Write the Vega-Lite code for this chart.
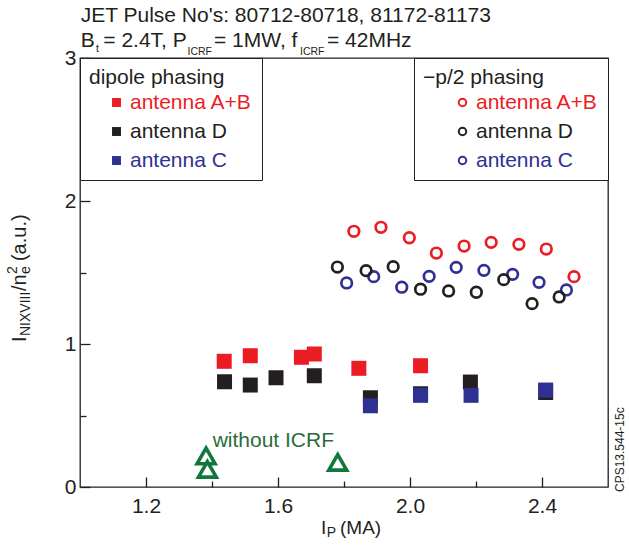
{
  "$schema": "https://vega.github.io/schema/vega-lite/v6.json",
  "width": 528,
  "height": 429,
  "autosize": {"type": "none"},
  "padding": {"left": 80, "top": 58, "right": 21, "bottom": 58},
  "background": "white",
  "config": {
    "font": "Liberation Sans",
    "view": {"stroke": "#231f20", "strokeWidth": 1.3},
    "axis": {"grid": false, "domain": false, "title": null, "tickColor": "#231f20", "tickWidth": 1.3, "labelColor": "#231f20", "labelFontSize": 21, "labelFont": "Liberation Sans"}
  },
  "datasets": {
    "dipole": [
      {"x": 1.437, "y": 0.879, "dip": "antenna A+B"},
      {"x": 1.516, "y": 0.918, "dip": "antenna A+B"},
      {"x": 1.671, "y": 0.907, "dip": "antenna A+B"},
      {"x": 1.710, "y": 0.930, "dip": "antenna A+B"},
      {"x": 1.845, "y": 0.830, "dip": "antenna A+B"},
      {"x": 2.032, "y": 0.848, "dip": "antenna A+B"},
      {"x": 1.438, "y": 0.736, "dip": "antenna D"},
      {"x": 1.516, "y": 0.713, "dip": "antenna D"},
      {"x": 1.594, "y": 0.764, "dip": "antenna D"},
      {"x": 1.710, "y": 0.778, "dip": "antenna D"},
      {"x": 1.880, "y": 0.624, "dip": "antenna D"},
      {"x": 2.032, "y": 0.652, "dip": "antenna D"},
      {"x": 2.183, "y": 0.734, "dip": "antenna D"},
      {"x": 2.411, "y": 0.661, "dip": "antenna D"},
      {"x": 1.880, "y": 0.568, "dip": "antenna C"},
      {"x": 2.032, "y": 0.641, "dip": "antenna C"},
      {"x": 2.185, "y": 0.641, "dip": "antenna C"},
      {"x": 2.411, "y": 0.678, "dip": "antenna C"}
    ],
    "half": [
      {"x": 1.808, "y": 1.427, "ph": "antenna C"},
      {"x": 1.890, "y": 1.471, "ph": "antenna C"},
      {"x": 1.975, "y": 1.397, "ph": "antenna C"},
      {"x": 2.058, "y": 1.473, "ph": "antenna C"},
      {"x": 2.140, "y": 1.536, "ph": "antenna C"},
      {"x": 2.224, "y": 1.515, "ph": "antenna C"},
      {"x": 2.311, "y": 1.487, "ph": "antenna C"},
      {"x": 2.391, "y": 1.431, "ph": "antenna C"},
      {"x": 2.474, "y": 1.378, "ph": "antenna C"},
      {"x": 1.780, "y": 1.538, "ph": "antenna D"},
      {"x": 1.867, "y": 1.513, "ph": "antenna D"},
      {"x": 1.949, "y": 1.541, "ph": "antenna D"},
      {"x": 2.032, "y": 1.383, "ph": "antenna D"},
      {"x": 2.117, "y": 1.371, "ph": "antenna D"},
      {"x": 2.201, "y": 1.362, "ph": "antenna D"},
      {"x": 2.284, "y": 1.450, "ph": "antenna D"},
      {"x": 2.370, "y": 1.282, "ph": "antenna D"},
      {"x": 2.452, "y": 1.329, "ph": "antenna D"},
      {"x": 1.830, "y": 1.788, "ph": "antenna A+B"},
      {"x": 1.912, "y": 1.816, "ph": "antenna A+B"},
      {"x": 1.998, "y": 1.743, "ph": "antenna A+B"},
      {"x": 2.080, "y": 1.636, "ph": "antenna A+B"},
      {"x": 2.164, "y": 1.685, "ph": "antenna A+B"},
      {"x": 2.246, "y": 1.711, "ph": "antenna A+B"},
      {"x": 2.330, "y": 1.697, "ph": "antenna A+B"},
      {"x": 2.413, "y": 1.664, "ph": "antenna A+B"},
      {"x": 2.497, "y": 1.471, "ph": "antenna A+B"}
    ],
    "ohmic": [
      {"x": 1.382, "y": 0.217},
      {"x": 1.386, "y": 0.123},
      {"x": 1.781, "y": 0.172}
    ],
    "annot": [
      {"text": "JET Pulse No's: 80712-80718, 81172-81173", "x": 1.002, "y": 3.252, "role": "head"},
      {"text": "B", "x": 1.002, "y": 3.079, "role": "head"},
      {"text": "t", "x": 1.0485, "y": 3.045, "role": "headsub"},
      {"text": "= 2.4T, P", "x": 1.0706, "y": 3.079, "role": "head"},
      {"text": "ICRF", "x": 1.3258, "y": 3.024, "role": "headsub"},
      {"text": "= 1MW, f", "x": 1.406, "y": 3.079, "role": "head"},
      {"text": "ICRF", "x": 1.6667, "y": 3.024, "role": "headsub"},
      {"text": "= 42MHz", "x": 1.7485, "y": 3.079, "role": "head"},
      {"text": "I", "x": 0.8364, "y": 1.014, "role": "ylab"},
      {"text": "NIXVIII", "x": 0.8485, "y": 1.056, "role": "ylabsub"},
      {"text": "/n", "x": 0.8364, "y": 1.371, "role": "ylab"},
      {"text": "e", "x": 0.8485, "y": 1.490, "role": "ylabsub"},
      {"text": "2", "x": 0.809, "y": 1.490, "role": "ylabsub"},
      {"text": "(a.u.)", "x": 0.8364, "y": 1.580, "role": "ylab"},
      {"text": "I", "x": 1.730, "y": -0.329, "role": "xlab"},
      {"text": "P", "x": 1.748, "y": -0.350, "role": "xlabsub"},
      {"text": "(MA)", "x": 1.788, "y": -0.329, "role": "xlab"},
      {"text": "CPS13.544-15c", "x": 2.648, "y": -0.035, "role": "stamp"},
      {"text": "without ICRF", "x": 1.402, "y": 0.282, "role": "green"}
    ]
  },
  "encoding": {
    "x": {"field": "x", "type": "quantitative", "scale": {"domain": [1.0, 2.6], "nice": false, "zero": false}, "axis": null},
    "y": {"field": "y", "type": "quantitative", "scale": {"domain": [0, 3], "nice": false, "zero": false}, "axis": null}
  },
  "resolve": {"axis": {"x": "independent", "y": "independent"}},
  "layer": [
    {
      "data": {"name": "dipole"},
      "mark": {"type": "square", "size": 225, "opacity": 1, "filled": true},
      "encoding": {
        "x": {"field": "x", "type": "quantitative", "scale": {"domain": [1.0, 2.6], "nice": false, "zero": false},
          "axis": {"orient": "bottom", "values": [1.2, 1.6, 2.0, 2.4], "format": ".1f", "tickSize": -10, "labelPadding": 18}},
        "y": {"field": "y", "type": "quantitative", "scale": {"domain": [0, 3], "nice": false, "zero": false},
          "axis": {"orient": "left", "values": [0, 1, 2, 3], "format": "d", "tickSize": -10, "labelPadding": 14}},
        "color": {"field": "dip", "type": "nominal",
          "scale": {"domain": ["antenna A+B", "antenna D", "antenna C"], "range": ["#ec1c24", "#231f20", "#2e3192"]},
          "legend": {
            "title": "dipole phasing", "orient": "top-left", "offset": 0, "direction": "vertical",
            "padding": 9, "strokeColor": "#231f20", "fillColor": "white",
            "titleFontSize": 21, "titleFontWeight": "normal", "titleColor": "#231f20", "titlePadding": 4, "titleFont": "Liberation Sans",
            "labelFontSize": 21, "labelFont": "Liberation Sans", "labelOffset": 3, "labelLimit": 300,
            "symbolType": "square", "symbolSize": 80, "symbolOffset": 17, "symbolStrokeWidth": 0,
            "rowPadding": 7, "labelExpr": "datum.label + '\u00a0'",
            "labelColor": {"expr": "datum.value === 'antenna A+B' ? '#ec1c24' : datum.value === 'antenna D' ? '#231f20' : '#2e3192'"}
          }
        }
      }
    },
    {
      "data": {"name": "half"},
      "mark": {"type": "point", "shape": "circle", "filled": false, "size": 112, "strokeWidth": 2.7, "opacity": 1},
      "encoding": {
        "x": {"field": "x", "type": "quantitative", "scale": {"domain": [1.0, 2.6], "nice": false, "zero": false},
          "axis": {"orient": "bottom", "values": [1.4, 1.8, 2.2], "labels": false, "tickSize": -6}},
        "y": {"field": "y", "type": "quantitative", "scale": {"domain": [0, 3], "nice": false, "zero": false},
          "axis": {"orient": "left", "values": [0.5, 1.5, 2.5], "labels": false, "tickSize": -6}},
        "stroke": {"field": "ph", "type": "nominal",
          "scale": {"domain": ["antenna A+B", "antenna D", "antenna C"], "range": ["#ec1c24", "#231f20", "#2e3192"]},
          "legend": {
            "title": "−p/2 phasing", "orient": "top-right", "offset": 0, "direction": "vertical",
            "padding": 9, "strokeColor": "#231f20", "fillColor": "white",
            "titleFontSize": 21, "titleFontWeight": "normal", "titleColor": "#231f20", "titlePadding": 4, "titleFont": "Liberation Sans",
            "labelFontSize": 21, "labelFont": "Liberation Sans", "labelOffset": 3, "labelLimit": 300,
            "symbolType": "circle", "symbolSize": 56, "symbolOffset": 29, "symbolStrokeWidth": 2,
            "rowPadding": 7,
            "labelColor": {"expr": "datum.value === 'antenna A+B' ? '#ec1c24' : datum.value === 'antenna D' ? '#231f20' : '#2e3192'"}
          }
        }
      }
    },
    {
      "data": {"name": "ohmic"},
      "mark": {"type": "point", "shape": "triangle-up", "filled": false, "size": 320, "strokeWidth": 3.6, "color": "#10783c", "opacity": 1}
    },
    {
      "data": {"name": "annot"},
      "transform": [{"filter": "datum.role === 'green'"}],
      "mark": {"type": "text", "align": "left", "baseline": "alphabetic", "fontSize": 21, "color": "#2a6c3b"},
      "encoding": {"text": {"field": "text"}}
    },
    {
      "data": {"name": "annot"},
      "transform": [{"filter": "datum.role === 'head'"}],
      "mark": {"type": "text", "align": "left", "baseline": "alphabetic", "fontSize": 21, "color": "#231f20"},
      "encoding": {"text": {"field": "text"}}
    },
    {
      "data": {"name": "annot"},
      "transform": [{"filter": "datum.role === 'headsub'"}],
      "mark": {"type": "text", "align": "left", "baseline": "alphabetic", "fontSize": 10.5, "color": "#231f20"},
      "encoding": {"text": {"field": "text"}}
    },
    {
      "data": {"name": "annot"},
      "transform": [{"filter": "datum.role === 'ylab'"}],
      "mark": {"type": "text", "align": "left", "baseline": "alphabetic", "angle": 270, "fontSize": 20, "color": "#231f20"},
      "encoding": {"text": {"field": "text"}}
    },
    {
      "data": {"name": "annot"},
      "transform": [{"filter": "datum.role === 'ylabsub'"}],
      "mark": {"type": "text", "align": "left", "baseline": "alphabetic", "angle": 270, "fontSize": 14, "color": "#231f20"},
      "encoding": {"text": {"field": "text"}}
    },
    {
      "data": {"name": "annot"},
      "transform": [{"filter": "datum.role === 'xlab'"}],
      "mark": {"type": "text", "align": "left", "baseline": "alphabetic", "fontSize": 19, "color": "#231f20"},
      "encoding": {"text": {"field": "text"}}
    },
    {
      "data": {"name": "annot"},
      "transform": [{"filter": "datum.role === 'xlabsub'"}],
      "mark": {"type": "text", "align": "left", "baseline": "alphabetic", "fontSize": 14, "color": "#231f20"},
      "encoding": {"text": {"field": "text"}}
    },
    {
      "data": {"name": "annot"},
      "transform": [{"filter": "datum.role === 'stamp'"}],
      "mark": {"type": "text", "align": "left", "baseline": "alphabetic", "angle": 270, "fontSize": 12, "color": "#231f20"},
      "encoding": {"text": {"field": "text"}}
    }
  ]
}
